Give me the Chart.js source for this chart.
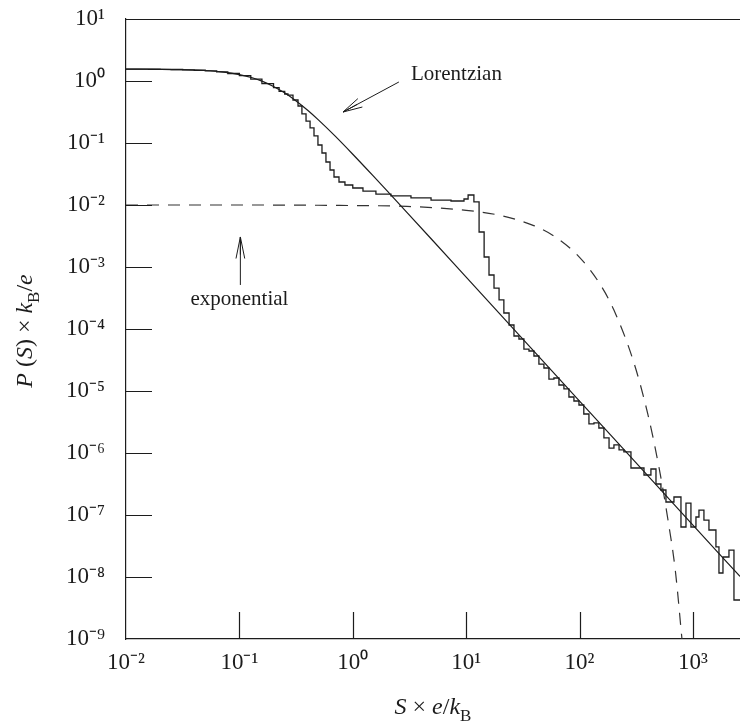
<!DOCTYPE html>
<html>
<head>
<meta charset="utf-8">
<script src="https://cdn.jsdelivr.net/npm/chart.js@4.4.0/dist/chart.umd.min.js"></script>
<style>
  html, body { margin: 0; padding: 0; background: #fff; }
  canvas { display: block; }
</style>
</head>
<body>
<canvas id="myChart" width="740" height="723"></canvas>
<script>
// axis ticks (powers of ten)
var xTicks = [1e-2, 1e-1, 1e0, 1e1, 1e2, 1e3];
var yTicks = [1e-9, 1e-8, 1e-7, 1e-6, 1e-5, 1e-4, 1e-3, 1e-2, 1e-1, 1e0, 1e1];

// Lorentzian curve
var lorentzS = [0.01, 0.02, 0.03, 0.05, 0.07, 0.1, 0.13, 0.16, 0.2, 0.25, 0.3, 0.4, 0.5, 0.7, 1, 1.5, 2, 3, 5, 10, 100, 1000, 2600];
var lorentzP = [1.556, 1.546, 1.529, 1.476, 1.404, 1.271, 1.128, 0.987, 0.818, 0.645, 0.513, 0.337, 0.234, 0.129, 0.0659, 0.0300, 0.0170, 0.00761, 0.00275, 6.88e-4, 6.88e-6, 6.88e-8, 1.02e-8];

// exponential curve (dashed)
var expS = [0.01, 0.1, 1, 3, 10, 20, 40, 60, 100, 150, 200, 300, 400, 500, 600, 700, 800];
var expP = [0.0100, 0.0100, 0.0098, 0.0095, 0.0082, 0.00678, 0.0046, 0.00312, 0.00143, 5.44e-4, 2.06e-4, 2.94e-5, 4.23e-6, 6.06e-7, 8.7e-8, 1.25e-8, 1.0e-9];

// measured histogram: left bin edge and bin height
var histS = [0.01, 0.0126, 0.0158, 0.02, 0.025, 0.0316, 0.04, 0.05, 0.063, 0.079, 0.1, 0.126, 0.158, 0.2, 0.224, 0.251,
  0.268, 0.297, 0.329, 0.356, 0.387, 0.420, 0.455, 0.493, 0.535, 0.580, 0.630, 0.683, 0.756, 0.853, 1.00, 1.23, 1.60, 2.17, 3.26, 4.90, 7.35, 9.57, 10.4, 11.7,
  13.0, 14.4, 15.9, 17.6, 19.5, 21.5, 23.9,
  26.4, 29.2, 32.3, 35.8, 39.6, 43.8, 48.5, 53.7, 59.4, 65.8, 72.8, 80.6, 89.2, 98.8, 109, 121, 134, 148, 164, 182, 201, 223,
  246, 284, 370, 426, 472, 522, 578, 680, 784, 868, 960, 1063, 1130, 1250, 1384, 1595, 1696, 1840, 2078, 2300, 2600];
var histP = [1.555, 1.552, 1.548, 1.542, 1.532, 1.516, 1.49, 1.46, 1.40, 1.32, 1.22, 1.07, 0.91, 0.78, 0.68, 0.617,
  0.594, 0.494, 0.395, 0.294, 0.226, 0.175, 0.130, 0.0929, 0.0690, 0.0494, 0.0367, 0.0283, 0.0235, 0.0210, 0.0188, 0.0168, 0.0150, 0.0140, 0.0130, 0.0120, 0.0116, 0.0125, 0.0145, 0.0112,
  0.00367, 0.00145, 7.43e-4, 4.58e-4, 2.94e-4, 1.81e-4, 1.16e-4,
  7.71e-5, 6.90e-5, 4.75e-5, 4.42e-5, 3.67e-5, 2.72e-5, 2.35e-5, 1.56e-5, 1.62e-5, 1.25e-5, 1.08e-5, 8.00e-6, 6.90e-6, 5.95e-6, 4.26e-6, 2.94e-6, 3.05e-6, 2.53e-6, 1.75e-6, 1.20e-6, 1.35e-6, 1.12e-6,
  1.04e-6, 5.73e-7, 4.42e-7, 5.52e-7, 3.16e-7, 2.53e-7, 1.62e-7, 1.95e-7, 6.40e-8, 1.56e-7, 6.40e-8, 9.29e-8, 1.20e-7, 8.29e-8, 5.73e-8, 3.05e-8, 1.16e-8, 2.10e-8, 2.72e-8, 4.26e-9, 4.26e-9];

var serif = '"Liberation Serif", "Times New Roman", serif';
var ink = '#1c1c1c';

var supMap = {'-': '\u207B', '0': '\u2070', '1': '\u00B9', '2': '\u00B2', '3': '\u00B3', '4': '\u2074',
  '5': '\u2075', '6': '\u2076', '7': '\u2077', '8': '\u2078', '9': '\u2079'};
function powLabel(v) {
  var e = String(Math.round(Math.log10(v)));
  return '10' + e.split('').map(function (c) { return supMap[c]; }).join('');
}

function pts(xs, ys) {
  return xs.map(function (x, i) { return {x: x, y: ys[i]}; });
}

// rich text: [text, style] with style 'i' italic, 'r' roman, 's' subscript
function partFont(p, size) {
  if (p[1] === 'i') return 'italic ' + size + 'px ' + serif;
  if (p[1] === 's') return Math.round(size * 0.72) + 'px ' + serif;
  return size + 'px ' + serif;
}
function drawParts(ctx, parts, x, y, size) {
  var total = 0;
  parts.forEach(function (p) { ctx.font = partFont(p, size); total += ctx.measureText(p[0]).width; });
  var cx = x - total / 2;
  parts.forEach(function (p) {
    ctx.font = partFont(p, size);
    ctx.fillText(p[0], cx, p[1] === 's' ? y + size * 0.28 : y);
    cx += ctx.measureText(p[0]).width;
  });
}

function arrow(ctx, x1, y1, x2, y2, len, ang) {
  // line from (x1,y1) to tip (x2,y2) with open head
  var a = Math.atan2(y1 - y2, x1 - x2);
  ctx.beginPath();
  ctx.moveTo(x1, y1); ctx.lineTo(x2, y2);
  ctx.moveTo(x2 + len * Math.cos(a + ang), y2 + len * Math.sin(a + ang));
  ctx.lineTo(x2, y2);
  ctx.lineTo(x2 + len * Math.cos(a - ang), y2 + len * Math.sin(a - ang));
  ctx.moveTo(x2 + len * 0.8 * Math.cos(a), y2 + len * 0.8 * Math.sin(a));
  ctx.lineTo(x2, y2);
  ctx.stroke();
}

var decor = {
  id: 'decor',
  afterDraw: function (chart) {
    var ctx = chart.ctx, a = chart.chartArea;
    var xs = chart.scales.x, ys = chart.scales.y;
    ctx.save();
    ctx.strokeStyle = ink;
    ctx.fillStyle = ink;
    ctx.lineWidth = 1.2;

    // top frame line and inward ticks
    ctx.beginPath();
    ctx.moveTo(a.left, a.top + 0.5); ctx.lineTo(a.right, a.top + 0.5);
    xs.ticks.forEach(function (t) {
      var px = Math.round(xs.getPixelForValue(t.value)) + 0.5;
      if (px < a.left + 2) return;
      ctx.moveTo(px, a.bottom); ctx.lineTo(px, a.bottom - 27);
    });
    ys.ticks.forEach(function (t) {
      var py = Math.round(ys.getPixelForValue(t.value)) + 0.5;
      if (py > a.bottom - 2 || py < a.top + 2) return;
      ctx.moveTo(a.left, py); ctx.lineTo(a.left + 26, py);
    });
    ctx.stroke();

    // axis titles
    ctx.textBaseline = 'alphabetic';
    drawParts(ctx, [['S', 'i'], [' \u00D7 ', 'r'], ['e', 'i'], ['/', 'r'], ['k', 'i'], ['B', 's']],
      (a.left + a.right) / 2, 714, 24);
    ctx.save();
    ctx.translate(32, (a.top + a.bottom) / 2 + 2);
    ctx.rotate(-Math.PI / 2);
    drawParts(ctx, [['P', 'i'], [' (', 'r'], ['S', 'i'], [') \u00D7 ', 'r'], ['k', 'i'], ['B', 's'], ['/', 'r'], ['e', 'i']],
      0, 0, 24);
    ctx.restore();

    // annotations
    ctx.lineWidth = 1;
    ctx.font = '21px ' + serif;
    ctx.textAlign = 'left';
    ctx.fillText('Lorentzian', xs.getPixelForValue(3.26), ys.getPixelForValue(1.04));
    arrow(ctx, xs.getPixelForValue(2.55), ys.getPixelForValue(0.964),
      xs.getPixelForValue(0.82), ys.getPixelForValue(0.316), 20, 0.24);

    ctx.textAlign = 'center';
    ctx.fillText('exponential', xs.getPixelForValue(0.1), ys.getPixelForValue(2.44e-4));
    arrow(ctx, xs.getPixelForValue(0.102), ys.getPixelForValue(5.13e-4),
      xs.getPixelForValue(0.102), ys.getPixelForValue(0.00305), 22, 0.2);
    ctx.restore();
  }
};

var ctx = document.getElementById('myChart').getContext('2d');
var myChart = new Chart(ctx, {
  type: 'line',
  data: {
    datasets: [
      {
        label: 'histogram',
        data: pts(histS, histP),
        stepped: true,
        borderColor: ink,
        borderWidth: 1.3,
        pointRadius: 0,
        fill: false
      }, {
        label: 'Lorentzian',
        data: pts(lorentzS, lorentzP),
        cubicInterpolationMode: 'monotone',
        borderColor: ink,
        borderWidth: 1.2,
        pointRadius: 0,
        fill: false
      }, {
        label: 'exponential',
        data: pts(expS, expP),
        cubicInterpolationMode: 'monotone',
        borderDash: [12, 9],
        borderColor: '#333',
        borderWidth: 1.2,
        pointRadius: 0,
        fill: false
      }
    ]
  },
  options: {
    responsive: false,
    animation: false,
    layout: { padding: { top: 19, right: 0, left: 0, bottom: 0 } },
    plugins: { legend: { display: false }, tooltip: { enabled: false } },
    scales: {
      x: {
        type: 'logarithmic',
        min: 0.01,
        max: 2600,
        afterBuildTicks: function (scale) { scale.ticks = xTicks.map(function (v) { return {value: v}; }); },
        afterFit: function (scale) {
          scale.height = 84;
          scale.paddingLeft = 0;
          scale.paddingRight = 0;
        },
        grid: { display: false, drawTicks: false },
        border: { display: true, color: ink, width: 1.2 },
        ticks: {
          autoSkip: false,
          maxRotation: 0,
          padding: 10,
          color: ink,
          font: { family: serif, size: 23 },
          callback: function (v) { return powLabel(v); }
        }
      },
      y: {
        type: 'logarithmic',
        min: 1e-9,
        max: 10,
        afterBuildTicks: function (scale) { scale.ticks = yTicks.map(function (v) { return {value: v}; }); },
        afterFit: function (scale) {
          scale.width = 126;
          scale.paddingTop = 0;
          scale.paddingBottom = 0;
        },
        grid: { display: false, drawTicks: false },
        border: { display: true, color: ink, width: 1.2 },
        ticks: {
          autoSkip: false,
          padding: 21,
          color: ink,
          font: { family: serif, size: 23 },
          callback: function (v) { return powLabel(v); }
        }
      }
    }
  },
  plugins: [decor]
});
</script>
</body>
</html>
